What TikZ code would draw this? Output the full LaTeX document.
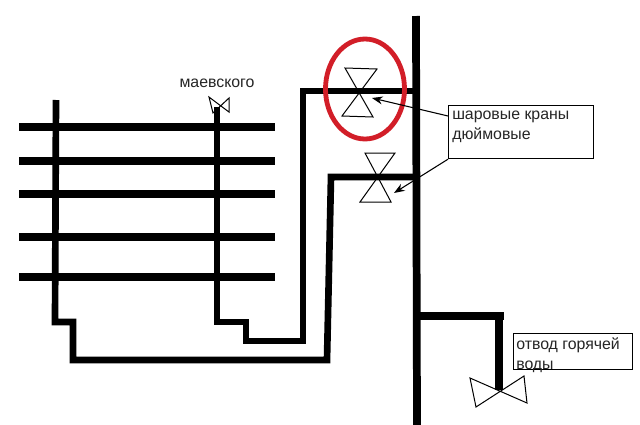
\documentclass[tikz,border=0pt]{standalone}
\usepackage{fontspec}
\setmainfont{Liberation Sans}
\usetikzlibrary{arrows.meta}
\definecolor{ringred}{RGB}{210,30,40}
\tikzset{
  pipe/.style={draw=black,line width=5.8pt,line join=miter},
  thinpipe/.style={draw=black,line width=5pt,line join=miter},
  valveline/.style={draw=black,line width=0.75pt,line join=miter},
  labelbox/.style={draw=black,line width=0.9pt,inner sep=0pt},
  lbl/.style={inner sep=0pt,anchor=base west,font=\fontsize{11.9pt}{13pt}\selectfont,text=black!85},
  pointer/.style={draw=black,line width=0.8pt,-{Stealth[length=8pt,width=6pt]}}
}
\begin{document}
\begin{tikzpicture}[x=0.75pt,y=-0.75pt]
\useasboundingbox (0,0) rectangle (640,425);
\fill[white] (0,0) rectangle (640,425);
% radiator bars
\foreach \yy in {127,161,194,237,277}{\draw[pipe] (19,\yy) -- (275,\yy);}
% risers and connections
\draw[thinpipe] (56,100) -- (55,322) -- (73,322) -- (73,360) -- (327,360) -- (331,177) -- (416,177);
\draw[thinpipe] (217,107) -- (217,322) -- (246,322) -- (246,341) -- (303,341) -- (303,91) -- (416,91);
\draw[pipe] (416,16) -- (417,425);
\draw[pipe] (416,316) -- (504,316);
\draw[pipe] (499,316) -- (499,390);
% valves
\draw[valveline] (345,68) -- (377,69) -- (342,116) -- (373,117) -- cycle;
\draw[valveline] (365,153) -- (395,153) -- (360,202) -- (391,202) -- cycle;
\draw[valveline] (470,378) -- (527,403) -- (524,376) -- (476,407) -- cycle;
\draw[valveline] (209,97) -- (229,112) -- (229,98) -- (213,113) -- cycle;
% ring
\draw[ringred,line width=3.6pt] (365,89) ellipse [x radius=39.5,y radius=50];
% boxes
\node[labelbox,anchor=north west,minimum width=108.75pt,minimum height=39.75pt] (box) at (448,105) {};
\node[labelbox,anchor=north west,minimum width=89.25pt,minimum height=27pt] (boxb) at (513,333) {};
\node[lbl] (t1) at (452,119) {шаровые краны};
\node[lbl] (t2) at (452,139) {дюймовые};
\node[lbl] (t3) at (516,349) {отвод горячей};
\node[lbl] (t4) at (516,369) {воды};
\node[lbl,anchor=base] (t5) at (217,87) {маевского};
% pointers
\coordinate (pa) at (448,116);
\coordinate (va) at (372,98);
\coordinate (vb) at (394,193);
\draw[pointer] (pa) -- (va);
\draw[pointer] (box.south west) -- (vb);
\end{tikzpicture}
\end{document}
